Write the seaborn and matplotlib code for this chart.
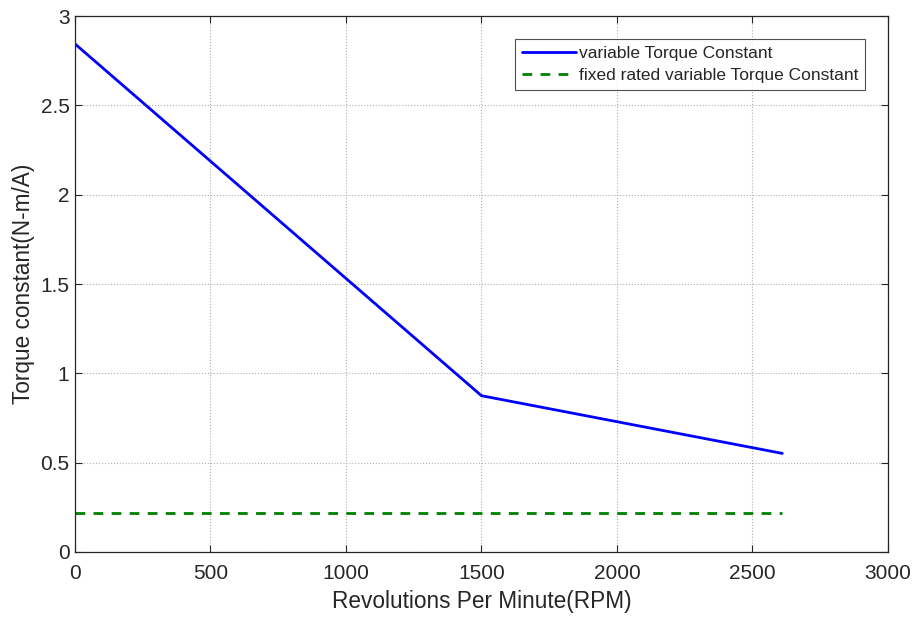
import pandas as pd
import matplotlib.pyplot as plt
import seaborn as sns

# values
rpm = [0, 1500, 2610]
torque_const = [2.845, 0.875, 0.552]
rated_rpm = [0, 2610]
rated_const = [0.22, 0.22]

sns.set_style("white")
plt.rcParams['font.family'] = ['Liberation Sans', 'DejaVu Sans']

fig = plt.figure(figsize=(9.13, 6.23), dpi=100)
ax = fig.add_axes([0.0821, 0.114, 0.8905, 0.860])

var_df = pd.DataFrame({'rpm': rpm, 'k': torque_const})
fix_df = pd.DataFrame({'rpm': rated_rpm, 'k': rated_const})

sns.lineplot(data=var_df, x='rpm', y='k', ax=ax, color='#0000ff', linewidth=2,
             label='variable Torque Constant')
sns.lineplot(data=fix_df, x='rpm', y='k', ax=ax, color='#008000', linewidth=2,
             linestyle=(0, (3.5, 3)), label='fixed rated variable Torque Constant')

ax.set_xlim(0, 3000)
ax.set_ylim(0, 3)
ax.set_xticks([0, 500, 1000, 1500, 2000, 2500, 3000])
ax.set_yticks([0, 0.5, 1, 1.5, 2, 2.5, 3])
ax.set_yticklabels(['0', '0.5', '1', '1.5', '2', '2.5', '3'])
ax.grid(True, color='#b0b0b0', linestyle=':', linewidth=0.8)
ax.tick_params(direction='in', length=5, width=0.8, labelsize=15, color='#262626',
               labelcolor='#262626', top=True, right=True, bottom=True, left=True)
ax.tick_params(axis='x', pad=9)
ax.tick_params(axis='y', pad=4)
for s in ax.spines.values():
    s.set_color('#262626')
    s.set_linewidth(0.9)

ax.set_xlabel('Revolutions Per Minute(RPM)', fontsize=16.3, color='#262626', labelpad=5)
ax.set_ylabel('Torque constant(N-m/A)', fontsize=16.3, color='#262626', labelpad=4)

leg = ax.legend(loc='upper right', bbox_to_anchor=(0.983, 0.973), fontsize=12.5,
                frameon=True, fancybox=False, edgecolor='#262626', handlelength=3.1,
                handletextpad=0.2, borderpad=0.4, labelspacing=0.35)
leg.get_frame().set_linewidth(0.8)

fig.savefig('out.png', dpi=100)
